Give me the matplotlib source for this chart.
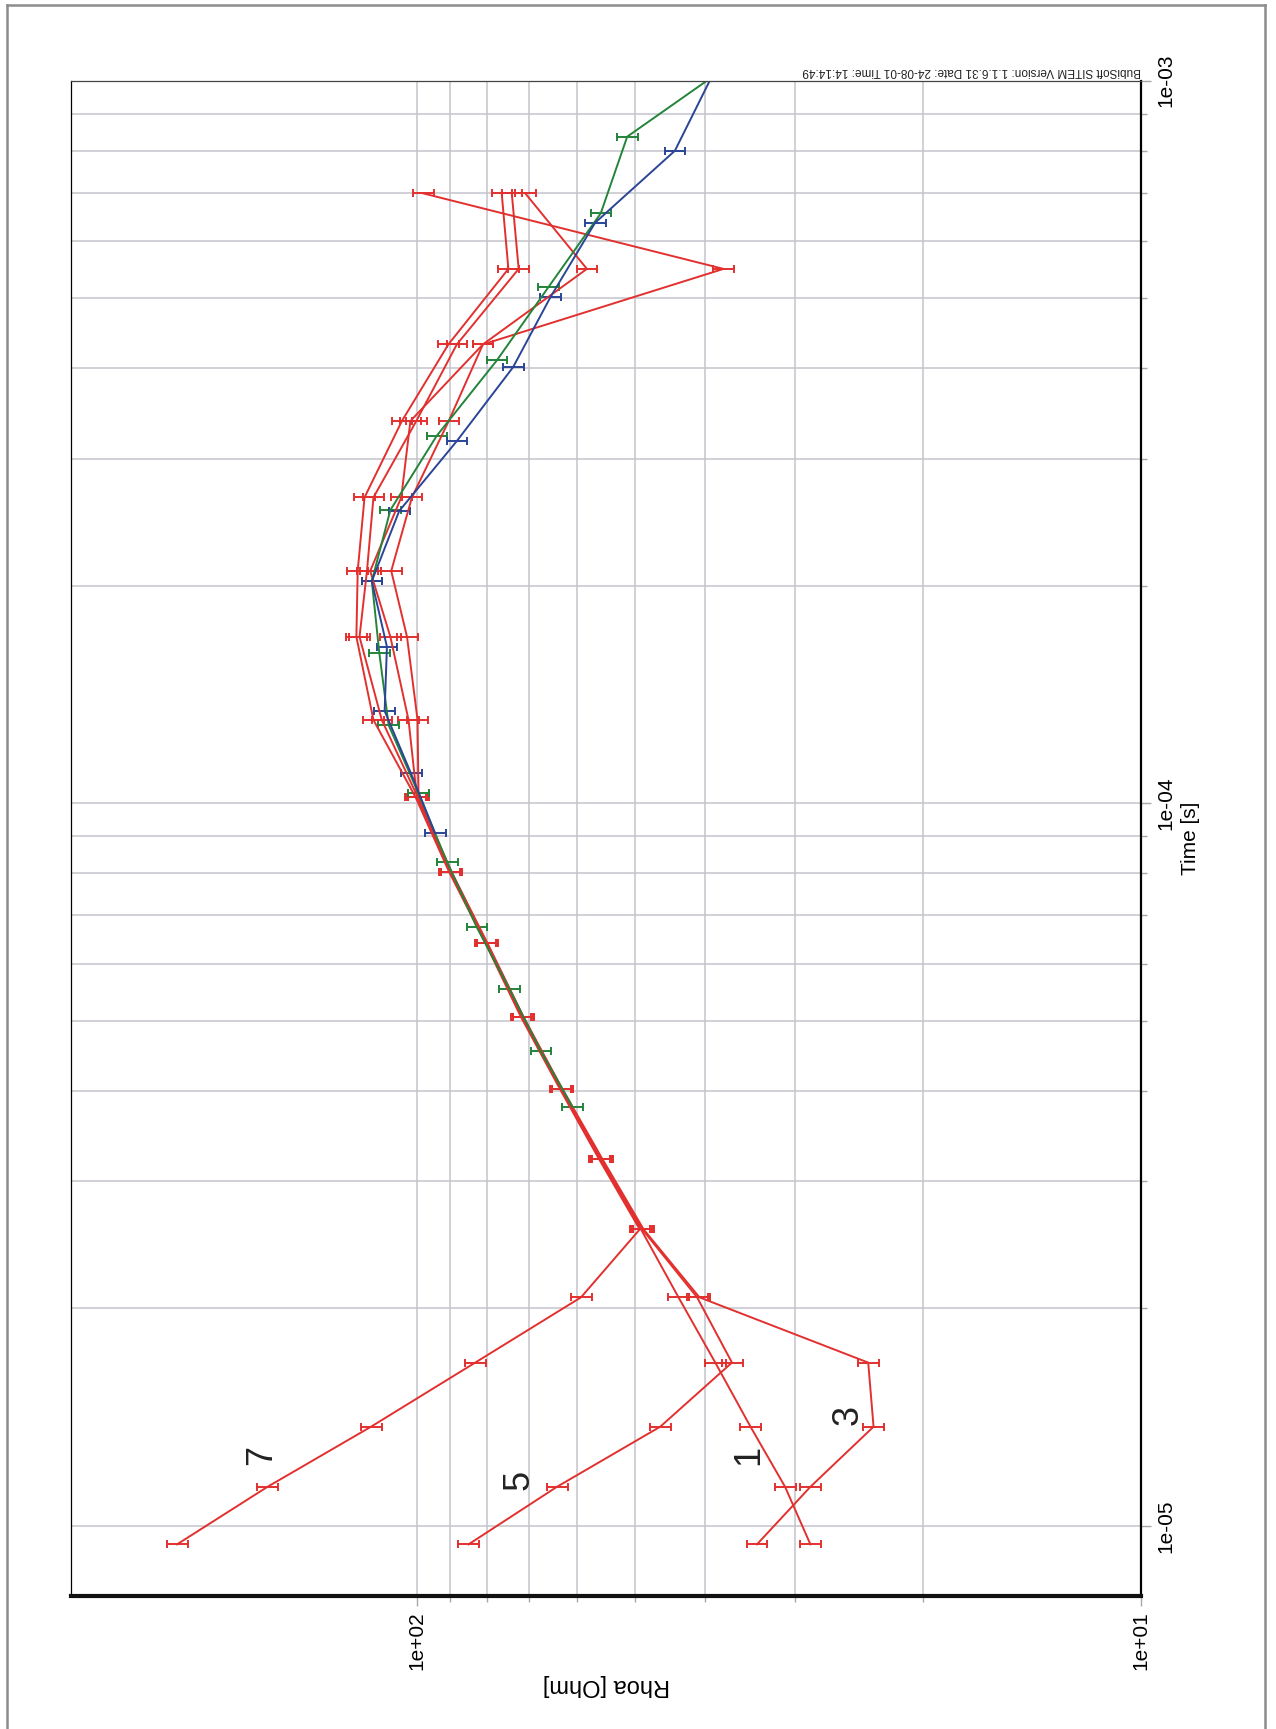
import numpy as np
import matplotlib
matplotlib.use('Agg')
import matplotlib.pyplot as plt
from matplotlib.ticker import FixedLocator, FixedFormatter, NullFormatter
from matplotlib.lines import Line2D

plt.rcParams['font.family'] = ['Liberation Sans', 'DejaVu Sans']

# gate times [s]
t_red = [9.43e-6, 1.133e-5, 1.372e-5, 1.683e-5, 2.072e-5, 2.573e-5, 3.219e-5,
         4.023e-5, 5.066e-5, 6.413e-5, 8.04e-5, 1.019e-4, 1.304e-4, 1.70e-4,
         2.097e-4, 2.651e-4, 3.381e-4, 4.316e-4, 5.49e-4, 6.985e-4]

# apparent resistivities [Ohm] of the four red soundings
rho_7 = [214.2, 160.6, 115.6, 83.0, 59.3, 49.2, 56.0, 63.4, 71.8, 80.4, 90.2,
         100.3, 114.7, 121.1, 120.6, 118.0, 104.8, 90.4, 74.7, 76.3]
rho_5 = [84.8, 64.0, 46.1, 36.7, 41.0, 48.8, 55.6, 63.0, 71.2, 79.9, 89.6,
         99.6, 111.7, 119.9, 117.1, 114.7, 100.1, 88.0, 72.3, 73.9]
rho_1 = [28.6, 31.0, 34.6, 38.7, 43.5, 49.0, 55.8, 63.2, 71.5, 80.2, 89.9,
         99.9, 102.6, 108.7, 115.9, 105.0, 102.0, 81.0, 58.2, 70.8]
rho_3 = [33.9, 28.6, 23.4, 23.8, 40.7, 48.6, 55.4, 62.9, 71.3, 80.0, 89.5,
         99.4, 99.7, 103.1, 108.4, 101.5, 90.3, 81.0, 37.7, 98.0]

t_green = [3.80e-5, 4.54e-5, 5.54e-5, 6.74e-5, 8.30e-5, 1.032e-4, 1.283e-4,
           1.616e-4, 2.03e-4, 2.546e-4, 3.226e-4, 4.101e-4, 5.177e-4,
           6.553e-4, 8.367e-4, 1.07e-3]
rho_green = [60.9, 67.4, 74.5, 82.6, 90.8, 99.4, 109.3, 112.6, 115.3, 108.7,
             93.8, 77.5, 65.8, 55.7, 51.2, 36.1]

t_blue = [9.09e-5, 1.10e-4, 1.342e-4, 1.647e-4, 2.03e-4, 2.538e-4, 3.172e-4,
          4.013e-4, 5.025e-4, 6.36e-4, 8.0e-4, 1.02e-3]
rho_blue = [94.3, 101.8, 110.7, 109.9, 115.3, 105.7, 88.0, 73.6, 65.3, 56.7,
            44.0, 39.0]

rel_err = 0.033

# curve labels (text, rho, time)
curve_labels = [('7', 163.5, 1.253e-5), ('5', 72.3, 1.157e-5),
                ('1', 34.8, 1.253e-5), ('3', 25.4, 1.424e-5)]

x_major = [10, 100]
x_major_labels = ['1e+01', '1e+02']
x_minor = [20, 30, 40, 50, 60, 70, 80, 90]
y_major = [1e-5, 1e-4, 1e-3]
y_major_labels = ['1e-05', '1e-04', '1e-03']
y_minor = [2e-5, 3e-5, 4e-5, 5e-5, 6e-5, 7e-5, 8e-5, 9e-5,
           2e-4, 3e-4, 4e-4, 5e-4, 6e-4, 7e-4, 8e-4, 9e-4]

header = 'BubiSoft SITEM Version: 1.1.6.31 Date: 24-08-01 Time: 14:14:49'

red = '#e2302f'
green = '#23843a'
blue = '#2a4596'

W, H = 1276, 1729
fig = plt.figure(figsize=(W / 100, H / 100), dpi=100)
ax = fig.add_axes([71 / W, 1 - 1596 / H, (1141 - 71) / W, (1596 - 80.7) / H])

ax.set_xscale('log')
ax.set_yscale('log')

for rho in [rho_7, rho_5, rho_1, rho_3]:
    rho = np.array(rho)
    ax.errorbar(rho, t_red, xerr=rho * rel_err, color=red, lw=1.4,
                elinewidth=1.4, capsize=3.2, capthick=1.4)

for t, rho, c in [(t_green, rho_green, green), (t_blue, rho_blue, blue)]:
    rho = np.array(rho)
    ax.errorbar(rho, t, xerr=rho * rel_err, color=c, lw=1.4,
                elinewidth=1.4, capsize=3.2, capthick=1.4)

for s, r, t in curve_labels:
    ax.text(r, t, s, rotation=90, fontsize=26, color='#222222',
            ha='center', va='center')

ax.set_xlim(300, 10)
ax.set_ylim(8e-6, 1e-3)

ax.xaxis.set_major_locator(FixedLocator(x_major))
ax.xaxis.set_major_formatter(FixedFormatter(x_major_labels))
ax.xaxis.set_minor_locator(FixedLocator(x_minor))
ax.xaxis.set_minor_formatter(NullFormatter())
ax.yaxis.set_major_locator(FixedLocator(y_major))
ax.yaxis.set_major_formatter(FixedFormatter(y_major_labels))
ax.yaxis.set_minor_locator(FixedLocator(y_minor))
ax.yaxis.set_minor_formatter(NullFormatter())
ax.yaxis.tick_right()

ax.tick_params(which='both', direction='out', color='#a8a8a8', width=1,
               labelsize=15, pad=4)
ax.tick_params(which='major', length=7)
ax.tick_params(which='minor', length=4.5)
plt.setp(ax.get_xticklabels(), rotation=90, ha='center', va='top')
plt.setp(ax.get_yticklabels(), rotation=90, ha='left', va='center')

ax.grid(which='both', color='#c4c4cc', lw=1.1)
ax.set_axisbelow(True)

ax.spines['left'].set_linewidth(0.9)
ax.spines['top'].set_linewidth(0.9)
ax.spines['top'].set_color('#444444')
ax.spines['right'].set_linewidth(1.6)
ax.spines['bottom'].set_linewidth(3)
ax.spines['bottom'].set_color('#111111')

ax.set_xlabel('Rhoa [Ohm]', fontsize=17, rotation=180, va='center', ha='center')
ax.xaxis.set_label_coords(0.5, -0.0587)
ax.yaxis.set_label_position('right')
ax.set_ylabel('Time [s]', fontsize=15, rotation=90, va='center', ha='center')
ax.yaxis.set_label_coords(1.0467, 0.5)

fig.text(1141 / W, 1 - 71 / H, header, rotation=180, ha='right', va='center',
         fontsize=8.5, color='#222222')

# outer frame
frame_kw = dict(color='#8c8c8c', lw=1.8, transform=fig.transFigure)
fig.add_artist(Line2D([7 / W, 7 / W], [0, 1 - 5 / H], **frame_kw))
fig.add_artist(Line2D([7 / W, 1265 / W], [1 - 5 / H, 1 - 5 / H], **frame_kw))
fig.add_artist(Line2D([1265 / W, 1265 / W], [0, 1 - 5 / H], **frame_kw))

plt.savefig('out.png', dpi=100)
